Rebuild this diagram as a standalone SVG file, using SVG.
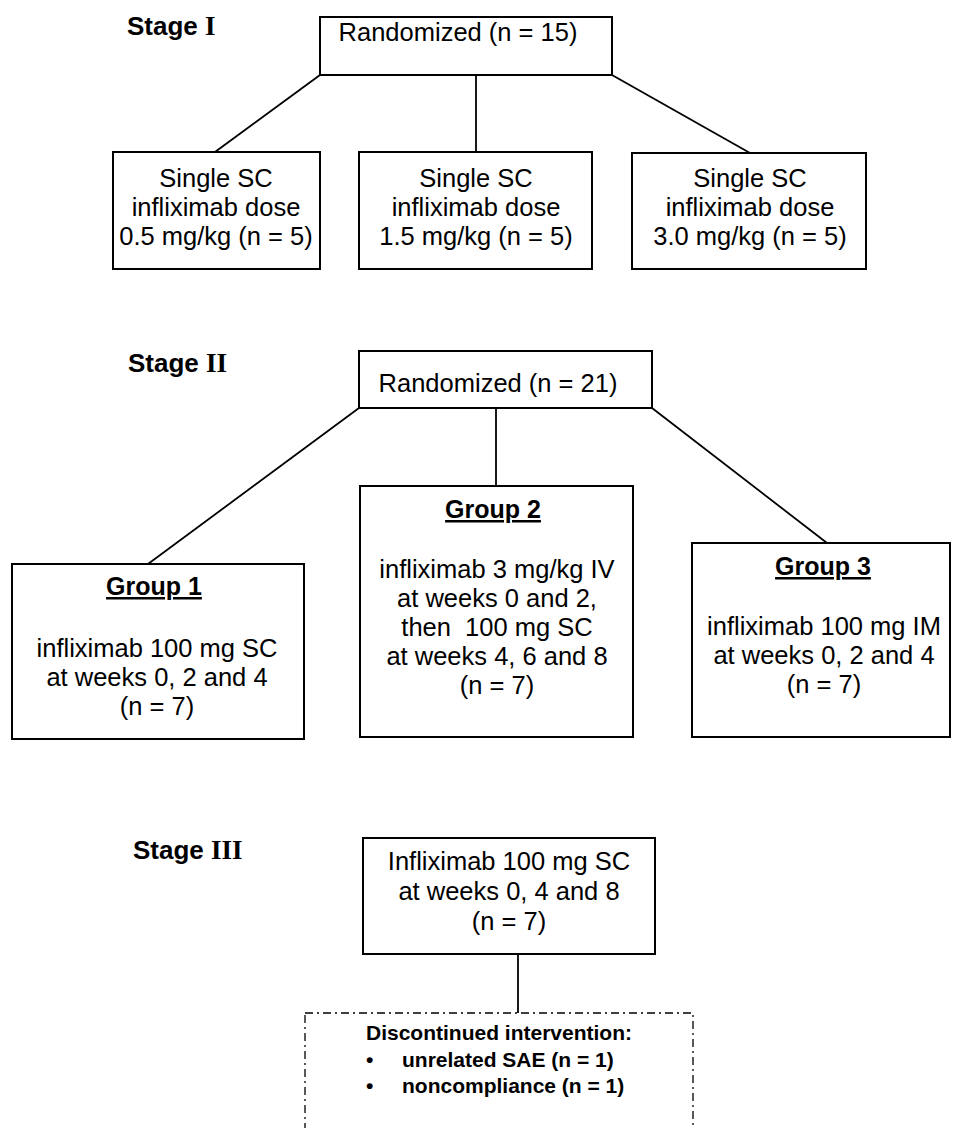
<svg xmlns="http://www.w3.org/2000/svg" width="953" height="1128" viewBox="0 0 953 1128">
<style>
.box{fill:#fff;stroke:#000;stroke-width:2}
.dbox{fill:none;stroke:#000;stroke-width:1.3;stroke-dasharray:8 4 2 4}
.ln{stroke:#000;stroke-width:1.8;fill:none}
.t{font-family:"Liberation Sans",Arial,sans-serif;font-size:25.5px;fill:#000;text-anchor:middle}
.ti{font-family:"Liberation Sans",Arial,sans-serif;font-size:25px;font-weight:bold;fill:#000;text-anchor:middle;text-decoration:underline}
.st{font-family:"Liberation Sans",Arial,sans-serif;font-size:26px;font-weight:bold;fill:#000}
.rn{font-family:"Liberation Serif","Times New Roman",serif;font-weight:bold;font-size:27px}
.b{font-family:"Liberation Sans",Arial,sans-serif;font-size:21px;font-weight:bold;fill:#000}
</style>
<rect width="953" height="1128" fill="#fff"/>
<g id="labels">
<text class="st" x="127" y="35">Stage <tspan class="rn">I</tspan></text>
<text class="st" x="128" y="372">Stage <tspan class="rn">II</tspan></text>
<text class="st" x="133" y="859">Stage <tspan class="rn">III</tspan></text>
</g>
<g id="connectors">
<line class="ln" x1="320" y1="75" x2="215" y2="152"/>
<line class="ln" x1="476" y1="75" x2="476" y2="152"/>
<line class="ln" x1="612" y1="75" x2="750" y2="153"/>
<line class="ln" x1="359" y1="408" x2="148" y2="564"/>
<line class="ln" x1="496" y1="408" x2="496" y2="486"/>
<line class="ln" x1="652" y1="408" x2="827" y2="543"/>
<line class="ln" x1="518" y1="954" x2="518" y2="1013"/>
</g>
<g id="s1-rand">
<rect class="box" x="320" y="17" width="292" height="58"/>
<text class="t" x="458" y="41">Randomized (n = 15)</text>
</g>
<g id="s1-dose05">
<rect class="box" x="113" y="152" width="207" height="117"/>
<text class="t" x="216" y="187">Single SC</text>
<text class="t" x="216" y="216">infliximab dose</text>
<text class="t" x="216" y="245">0.5 mg/kg (n = 5)</text>
</g>
<g id="s1-dose15">
<rect class="box" x="359" y="152" width="233" height="117"/>
<text class="t" x="476" y="187">Single SC</text>
<text class="t" x="476" y="216">infliximab dose</text>
<text class="t" x="476" y="245">1.5 mg/kg (n = 5)</text>
</g>
<g id="s1-dose30">
<rect class="box" x="632" y="153" width="234" height="116"/>
<text class="t" x="750" y="187">Single SC</text>
<text class="t" x="750" y="216">infliximab dose</text>
<text class="t" x="750" y="245">3.0 mg/kg (n = 5)</text>
</g>
<g id="s2-rand">
<rect class="box" x="359" y="351" width="293" height="57"/>
<text class="t" x="498" y="392">Randomized (n = 21)</text>
</g>
<g id="s2-group1">
<rect class="box" x="12" y="564" width="292" height="175"/>
<text class="ti" x="154" y="595">Group 1</text>
<text class="t" x="157" y="657">infliximab 100 mg SC</text>
<text class="t" x="157" y="686">at weeks 0, 2 and 4</text>
<text class="t" x="157" y="715">(n = 7)</text>
</g>
<g id="s2-group2">
<rect class="box" x="360" y="486" width="273" height="251"/>
<text class="ti" x="493" y="518">Group 2</text>
<text class="t" x="497" y="578">infliximab 3 mg/kg IV</text>
<text class="t" x="497" y="607">at weeks 0 and 2,</text>
<text class="t" x="497" y="636" xml:space="preserve">then  100 mg SC</text>
<text class="t" x="497" y="665">at weeks 4, 6 and 8</text>
<text class="t" x="497" y="694">(n = 7)</text>
</g>
<g id="s2-group3">
<rect class="box" x="692" y="543" width="258" height="194"/>
<text class="ti" x="823" y="575">Group 3</text>
<text class="t" x="824" y="635">infliximab 100 mg IM</text>
<text class="t" x="824" y="664">at weeks 0, 2 and 4</text>
<text class="t" x="824" y="693">(n = 7)</text>
</g>
<g id="s3-sc">
<rect class="box" x="363" y="838" width="292" height="116"/>
<text class="t" x="509" y="870">Infliximab 100 mg SC</text>
<text class="t" x="509" y="900">at weeks 0, 4 and 8</text>
<text class="t" x="509" y="930">(n = 7)</text>
</g>
<g id="s3-discontinued">
<rect class="dbox" x="305" y="1013" width="388" height="130"/>
<text class="b" x="499" y="1040" text-anchor="middle">Discontinued intervention:</text>
<text class="b" x="366" y="1067">•</text>
<text class="b" x="402" y="1067">unrelated SAE (n = 1)</text>
<text class="b" x="366" y="1093">•</text>
<text class="b" x="402" y="1093">noncompliance (n = 1)</text>
</g>
</svg>
